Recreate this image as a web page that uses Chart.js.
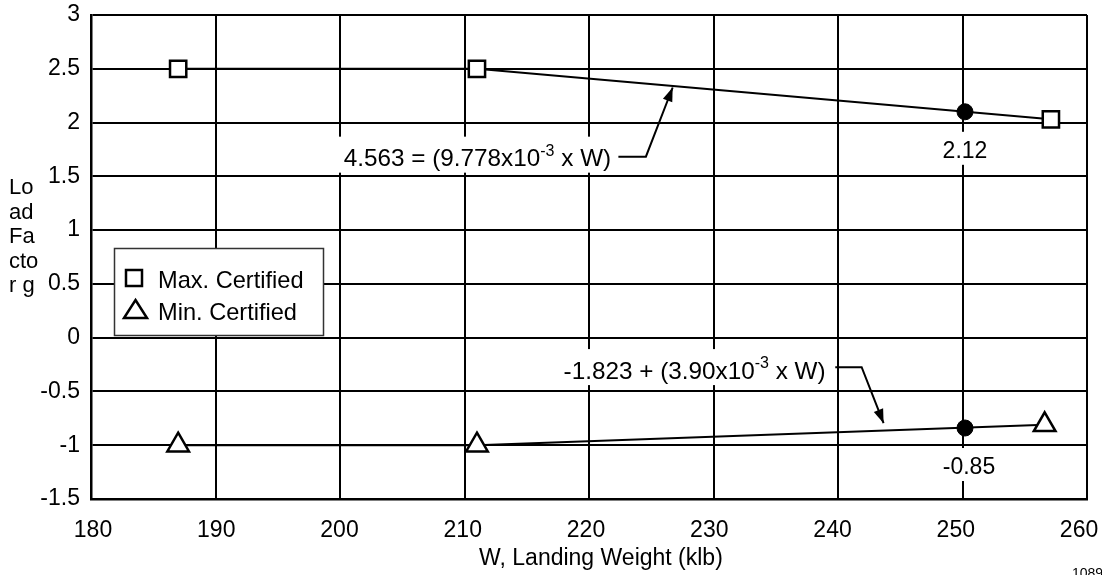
<!DOCTYPE html>
<html>
<head>
<meta charset="utf-8">
<script src="https://cdn.jsdelivr.net/npm/chart.js@4.4.1/dist/chart.umd.min.js"></script>
<style>
  html, body { margin: 0; padding: 0; background: #fff; }
  #wrap { width: 1102px; height: 575px; position: relative; }
</style>
</head>
<body>
<div id="wrap"><canvas id="c" width="1102" height="575"></canvas></div>
<script>
// load factor (g) vs landing weight (klb)
var maxW = [187, 211, 257.1];
var maxG = [2.5, 2.5, 2.03];
var minW = [187, 211, 256.6];
var minG = [-1, -1, -0.81];
var calcW = [250.2, 250.2];
var calcG = [2.1, -0.84];
var calcLabels = ['2.12', '-0.85'];

var xTicks = [180, 190, 200, 210, 220, 230, 240, 250, 260];
var yTicks = [-1.5, -1, -0.5, 0, 0.5, 1, 1.5, 2, 2.5, 3];
var seriesNames = ['Max. Certified', 'Min. Certified'];
var xTitle = 'W, Landing Weight (klb)';
var yTitle = ['Lo', 'ad', 'Fa', 'cto', 'r g'];
var eqMax = ['4.563 = (9.778x10', '-3', ' x W)'];
var eqMin = ['-1.823 + (3.90x10', '-3', ' x W)'];

var FONT = '"Liberation Sans", Arial, sans-serif';
var BASE = '23px ' + FONT;
var EQ = '24.3px ' + FONT;
var SUP = '16px ' + FONT;

function pts(xs, ys) {
  return xs.map(function (x, i) { return {x: x, y: ys[i]}; });
}

function noPad(s) {
  s.paddingTop = 0; s.paddingBottom = 0; s.paddingLeft = 0; s.paddingRight = 0;
}

function drawEq(ctx, parts, x, y) {
  ctx.font = EQ; var w0 = ctx.measureText(parts[0]).width;
  ctx.font = SUP; var w1 = ctx.measureText(parts[1]).width;
  ctx.font = EQ; var w2 = ctx.measureText(parts[2]).width;
  var w = w0 + w1 + w2;
  ctx.fillStyle = '#fff';
  ctx.fillRect(x - 6, y - 23, w + 12, 36);
  ctx.fillStyle = '#000';
  ctx.textAlign = 'left';
  ctx.font = EQ; ctx.fillText(parts[0], x, y);
  ctx.font = SUP; ctx.fillText(parts[1], x + w0, y - 8);
  ctx.font = EQ; ctx.fillText(parts[2], x + w0 + w1, y);
}

function arrow(ctx, p) {
  ctx.strokeStyle = '#000';
  ctx.fillStyle = '#000';
  ctx.lineWidth = 2;
  ctx.beginPath();
  ctx.moveTo(p[0][0], p[0][1]);
  for (var i = 1; i < p.length; i++) ctx.lineTo(p[i][0], p[i][1]);
  ctx.stroke();
  var a = p[p.length - 1], b = p[p.length - 2];
  var ang = Math.atan2(a[1] - b[1], a[0] - b[0]);
  var c = Math.cos(ang), s = Math.sin(ang);
  ctx.beginPath();
  ctx.moveTo(a[0], a[1]);
  ctx.lineTo(a[0] - 14 * c + 5 * s, a[1] - 14 * s - 5 * c);
  ctx.lineTo(a[0] - 14 * c - 5 * s, a[1] - 14 * s + 5 * c);
  ctx.closePath();
  ctx.fill();
}

var overlay = {
  id: 'overlay',
  afterDraw: function (chart) {
    var ctx = chart.ctx, xs = chart.scales.x, ys = chart.scales.y, a = chart.chartArea;
    var X = function (v) { return xs.getPixelForValue(v); };
    var Y = function (v) { return ys.getPixelForValue(v); };
    ctx.save();
    ctx.textBaseline = 'middle';
    ctx.fillStyle = '#000';

    // x tick labels, a bit compressed like the original
    ctx.font = BASE;
    ctx.textAlign = 'center';
    var x0 = X(xTicks[0]);
    xTicks.forEach(function (v) {
      ctx.fillText(String(v), x0 + 2 + (X(v) - x0) * 0.99, a.bottom + 32);
    });
    ctx.fillText(xTitle, a.left + (a.right - a.left) * 0.512, a.bottom + 60);

    // wrapped y title
    ctx.textAlign = 'left';
    ctx.font = '22px ' + FONT;
    yTitle.forEach(function (s, i) { ctx.fillText(s, 9, 188 + i * 24.5); });

    // equations + leaders
    drawEq(ctx, eqMax, X(200.3), Y(1.655));
    arrow(ctx, [[X(222.36), Y(1.683)], [X(224.57), Y(1.683)], [X(226.72), Y(2.326)]]);
    drawEq(ctx, eqMin, X(217.96), Y(-0.32));
    arrow(ctx, [[X(239.78), Y(-0.275)], [X(241.9), Y(-0.275)], [X(243.66), Y(-0.795)]]);

    // values at the calculated points
    ctx.font = BASE;
    ctx.textAlign = 'center';
    var lblY = [Y(calcG[0]) + 40, Y(calcG[1]) + 40];
    calcLabels.forEach(function (t, i) {
      var w = ctx.measureText(t).width, cx = X(calcW[i]) + (i ? 4 : 0);
      ctx.fillStyle = '#fff';
      ctx.fillRect(cx - w / 2 - 4, lblY[i] - 20, w + 8, 33);
      ctx.fillStyle = '#000';
      ctx.fillText(t, cx, lblY[i]);
    });

    // legend box
    var lx = 114, ly = 248, lw = 209, lh = 87;
    ctx.fillStyle = '#fff';
    ctx.fillRect(lx, ly, lw, lh);
    ctx.strokeStyle = '#333';
    ctx.lineWidth = 1.5;
    ctx.strokeRect(lx + 0.5, ly + 0.5, lw, lh);
    ctx.strokeStyle = '#000';
    ctx.lineWidth = 2.5;
    ctx.strokeRect(126, 270, 16, 16);
    ctx.beginPath();
    ctx.moveTo(135.5, 300); ctx.lineTo(147, 318); ctx.lineTo(124, 318); ctx.closePath();
    ctx.stroke();
    ctx.fillStyle = '#000';
    ctx.textAlign = 'left';
    ctx.font = '23.6px ' + FONT;
    ctx.fillText(seriesNames[0], 158, 281);
    ctx.fillText(seriesNames[1], 158, 313);

    // cut-off figure number
    ctx.font = '14px ' + FONT;
    ctx.textBaseline = 'top';
    ctx.fillText('10896', 1072, 567);
    ctx.restore();
  }
};

new Chart(document.getElementById('c'), {
  type: 'scatter',
  data: {
    datasets: [
      {
        label: 'calc',
        data: pts(calcW, calcG),
        showLine: false,
        pointStyle: 'circle',
        pointRadius: 8,
        pointBackgroundColor: '#000',
        pointBorderColor: '#000',
        pointBorderWidth: 1
      },
      {
        label: seriesNames[0],
        data: pts(maxW, maxG),
        showLine: true,
        borderColor: '#000',
        borderWidth: 2,
        pointStyle: 'rect',
        pointRadius: 11.5,
        pointBackgroundColor: '#fff',
        pointBorderColor: '#000',
        pointBorderWidth: 2.5
      },
      {
        label: seriesNames[1],
        data: pts(minW, minG),
        showLine: true,
        borderColor: '#000',
        borderWidth: 2,
        pointStyle: 'triangle',
        pointRadius: 12.5,
        pointBackgroundColor: '#fff',
        pointBorderColor: '#000',
        pointBorderWidth: 2.5
      }
    ]
  },
  options: {
    responsive: false,
    animation: false,
    devicePixelRatio: 1,
    layout: { padding: { top: 14, right: 6, left: 0, bottom: 0 } },
    plugins: { legend: { display: false }, tooltip: { enabled: false } },
    scales: {
      x: {
        type: 'linear',
        min: 180,
        max: 260,
        afterBuildTicks: function (s) { s.ticks = xTicks.map(function (v) { return {value: v}; }); },
        afterFit: function (s) { s.height = 76; noPad(s); },
        ticks: { display: false },
        grid: { color: '#000', lineWidth: 2, drawTicks: false },
        border: { color: '#000', width: 2.5 }
      },
      y: {
        type: 'linear',
        min: -1.5,
        max: 3,
        afterBuildTicks: function (s) { s.ticks = yTicks.map(function (v) { return {value: v}; }); },
        afterFit: function (s) { s.width = 91; noPad(s); },
        ticks: {
          color: '#000',
          font: { family: FONT, size: 23 },
          padding: 11,
          callback: function (v) { return String(v); }
        },
        grid: { color: '#000', lineWidth: 2, drawTicks: false },
        border: { color: '#000', width: 2.5 }
      }
    }
  },
  plugins: [overlay]
});
</script>
</body>
</html>
